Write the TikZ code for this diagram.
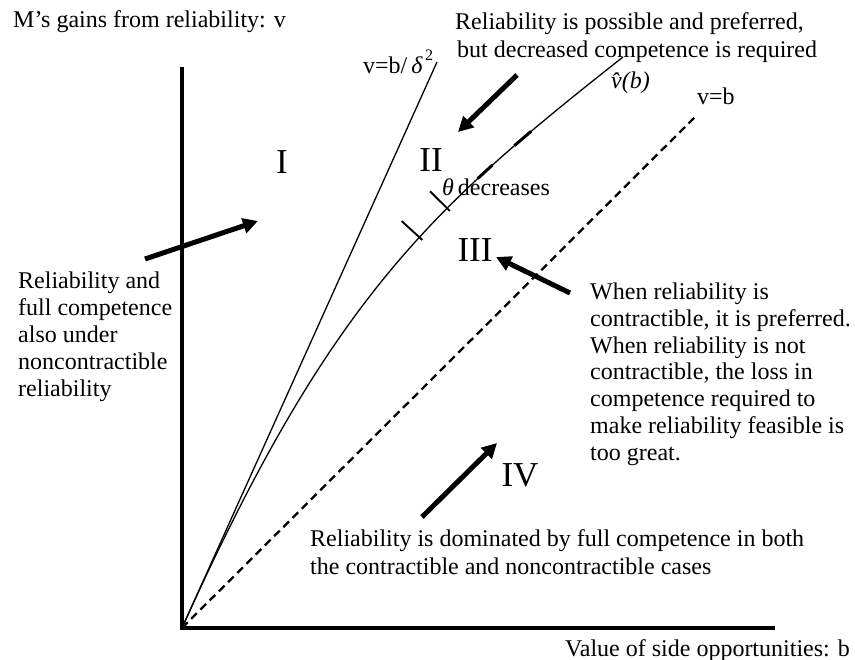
\documentclass[tikz,border=0pt]{standalone}
\usepackage{fontspec}
\setmainfont{Liberation Serif}
\usetikzlibrary{arrows.meta}
\begin{document}
\begin{tikzpicture}[x=1pt,y=-1pt,
  txt/.style={anchor=base west, inner sep=0, font=\fontsize{24}{27}\selectfont},
  roman/.style={anchor=base, inner sep=0, font=\fontsize{35}{37}\selectfont},
  bigarrow/.style={line width=5pt, -{Triangle[length=15pt,width=15pt]}},
  axisline/.style={line width=3.5pt},
  thinline/.style={line width=1.3pt},
  dashline/.style={line width=2.3pt, dash pattern=on 8pt off 5pt},
  tickmark/.style={pos=#1, sloped, anchor=base, inner sep=0},
  thickseg/.style={pos=#1, sloped, anchor=center, inner sep=0}]
\useasboundingbox (0,0) rectangle (855,660);
% axes
\coordinate (O) at (182,628);
\coordinate (Ytop) at (182,67);
\coordinate (Xend) at (775,628);
\draw[axisline] (Ytop) -- (O) -- (Xend);
% lines
\coordinate (Dtop) at (437,62);
\draw[thinline] (O) -- (Dtop);
\coordinate (Btop) at (697,115);
\draw[dashline] (O) -- (Btop);
% curve v-hat
\coordinate (Ctop) at (623,57);
\draw[thinline] (O) .. controls (330.5,298) and (431.5,208) .. (Ctop)
  node[tickmark=0.58] (tick1) {\rule[-4pt]{1.9pt}{28pt}}
  node[tickmark=0.645] (tick2) {\rule[-4pt]{1.9pt}{28pt}}
  node[thickseg=0.73] (seg1) {\rule{20pt}{3pt}}
  node[thickseg=0.81] (seg2) {\rule{22pt}{3pt}};
% line labels
\node[txt] (ldelta) at (363,74) {v=b/\,{\itshape δ}\raisebox{13pt}{\fontsize{16}{16}\selectfont\,2}};
\node[txt] (lvhat) at (611,89) {\itshape \^{v}(b)};
\node[txt] (lvb) at (697,105) {v=b};
\node[txt] (ltheta) at (442,196) {{\itshape θ}\,decreases};
% region numerals
\node[roman] (r1) at (282,174) {I};
\node[roman] (r2) at (431,172) {II};
\node[roman] (r3) at (475,262) {III};
\node[roman] (r4) at (520,487) {IV};
% axis labels
\node[txt] (yl) at (13,28) {M’s gains from reliability: v};
\node[txt] (xl) at (565,656) {Value of side opportunities: b};
% top right text
\node[txt] (t1) at (455,30) {Reliability is possible and preferred,};
\node[txt] (t2) at (457,58) {but decreased competence is required};
% left text
\node[txt] (l1) at (18,289) {Reliability and};
\node[txt] (l2) at (18,316) {full competence};
\node[txt] (l3) at (18,343) {also under};
\node[txt] (l4) at (18,370) {noncontractible};
\node[txt] (l5) at (18,397) {reliability};
% right text
\node[txt] (m1) at (590,300) {When reliability is};
\node[txt] (m2) at (590,327) {contractible, it is preferred.};
\node[txt] (m3) at (590,354) {When reliability is not};
\node[txt] (m4) at (590,380) {contractible, the loss in};
\node[txt] (m5) at (590,407) {competence required to};
\node[txt] (m6) at (590,434) {make reliability feasible is};
\node[txt] (m7) at (590,461) {too great.};
% bottom text
\node[txt] (b1) at (310,546) {Reliability is dominated by full competence in both};
\node[txt] (b2) at (310,574) {the contractible and noncontractible cases};
% arrows
\coordinate (a1s) at (517,75); \coordinate (a1e) at (458,132);
\draw[bigarrow] (a1s) -- (a1e);
\coordinate (a2s) at (145,259); \coordinate (a2e) at (258,221);
\draw[bigarrow] (a2s) -- (a2e);
\coordinate (a3s) at (570,293); \coordinate (a3e) at (496,257);
\draw[bigarrow] (a3s) -- (a3e);
\coordinate (a4s) at (422,517); \coordinate (a4e) at (497,443);
\draw[bigarrow] (a4s) -- (a4e);
\end{tikzpicture}
\end{document}
